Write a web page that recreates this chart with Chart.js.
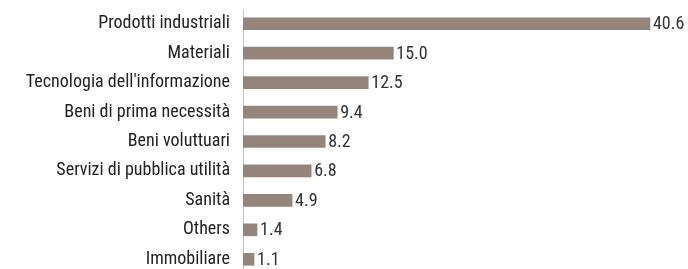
<!DOCTYPE html>
<html><head><meta charset="utf-8">
<script src="https://cdn.jsdelivr.net/npm/chart.js@4/dist/chart.umd.min.js"></script>
<style>html,body{margin:0;padding:0;background:#fff;overflow:hidden;height:269px}canvas{display:block}</style>
</head><body><canvas id="c" width="688" height="274"></canvas>
<script>
const categories = ["Prodotti industriali","Materiali","Tecnologia dell'informazione","Beni di prima necessità","Beni voluttuari","Servizi di pubblica utilità","Sanità","Others","Immobiliare"];
const values = [40.6,15.0,12.5,9.4,8.2,6.8,4.9,1.4,1.1];
const FONT = "'Roboto Condensed','Liberation Sans Narrow',sans-serif";
const valueLabels = {
  id:'valueLabels',
  afterDatasetsDraw(chart){
    const ctx = chart.ctx;
    const meta = chart.getDatasetMeta(0);
    ctx.save();
    ctx.font = "18px " + FONT;
    ctx.fillStyle = "#333";
    ctx.textAlign = "left";
    ctx.textBaseline = "middle";
    meta.data.forEach((bar,i)=>{
      ctx.fillText(values[i].toFixed(1), bar.x + 3, bar.y + 1);
    });
    ctx.restore();
  }
};
new Chart(document.getElementById('c'),{
  type:'bar',
  data:{labels:categories,datasets:[{data:values,backgroundColor:'#948479',barThickness:12}]},
  options:{
    indexAxis:'y',responsive:false,animation:false,
    layout:{padding:{top:9,right:4,bottom:0,left:0}},
    plugins:{legend:{display:false},tooltip:{enabled:false}},
    scales:{
      x:{display:false,min:0,max:44},
      y:{
        grid:{display:false,drawTicks:false},
        border:{display:true,color:'#c8c8c8',width:1},
        ticks:{color:'#222',font:{family:FONT,size:18},padding:13,autoSkip:false},
        afterFit(s){s.width=243;s.paddingTop=0;s.paddingBottom=0;}
      }
    }
  },
  plugins:[valueLabels]
});
</script></body></html>
